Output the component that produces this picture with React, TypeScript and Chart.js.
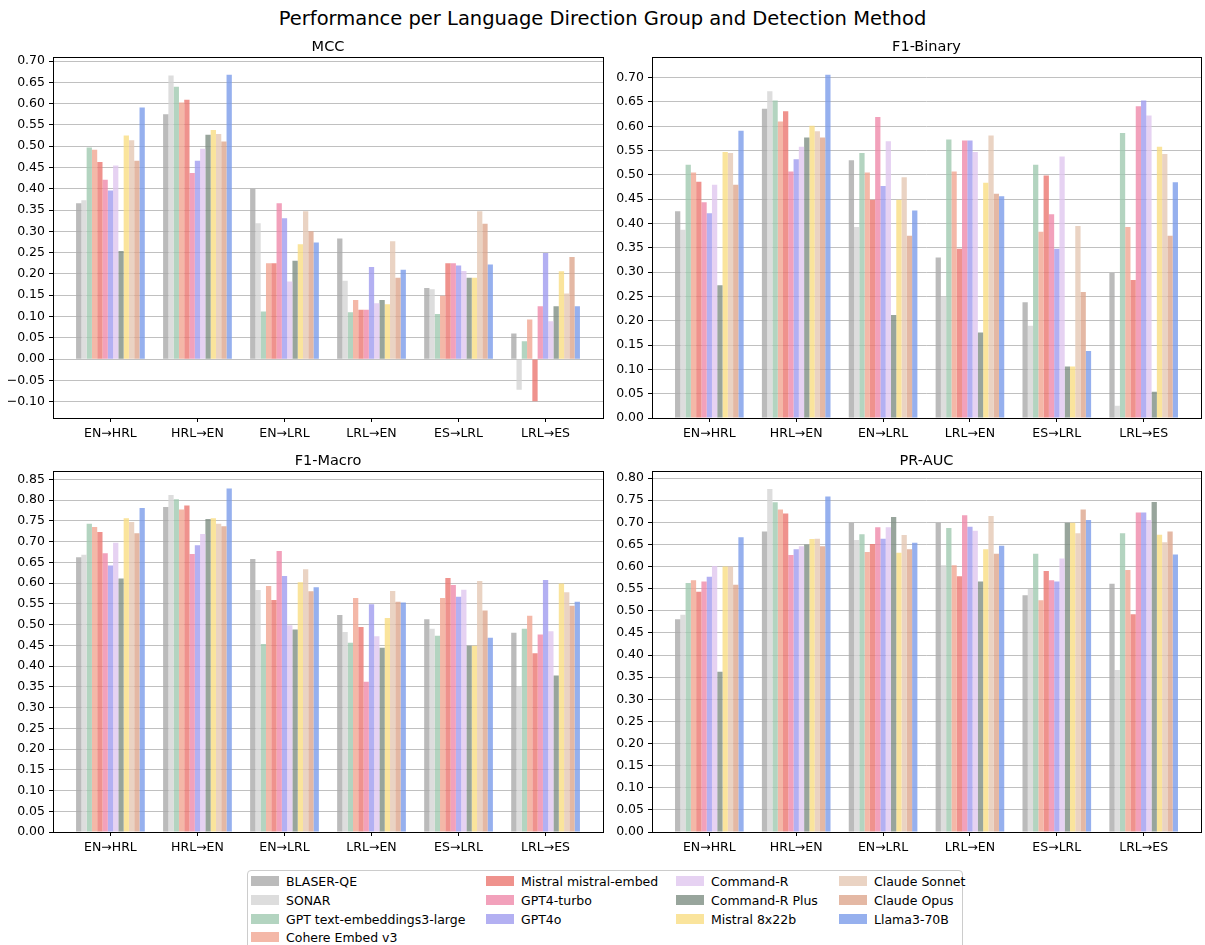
import React, { useEffect, useRef } from "react";
import { Chart, registerables } from "chart.js";

Chart.register(...registerables);

const FONT = "'DejaVu Sans', 'Liberation Sans', sans-serif";

const categories = ["EN→HRL", "HRL→EN", "EN→LRL", "LRL→EN", "ES→LRL", "LRL→ES"];

const methods = [
  "BLASER-QE",
  "SONAR",
  "GPT text-embeddings3-large",
  "Cohere Embed v3",
  "Mistral mistral-embed",
  "GPT4-turbo",
  "GPT4o",
  "Command-R",
  "Command-R Plus",
  "Mistral 8x22b",
  "Claude Sonnet",
  "Claude Opus",
  "Llama3-70B",
];

const methodColors = [
  "rgba(170,170,170,0.8)",
  "rgba(212,212,212,0.8)",
  "rgba(160,201,176,0.8)",
  "rgba(241,166,146,0.8)",
  "rgba(235,119,113,0.8)",
  "rgba(239,137,170,0.8)",
  "rgba(160,156,239,0.8)",
  "rgba(224,199,239,0.8)",
  "rgba(126,142,131,0.8)",
  "rgba(249,221,131,0.8)",
  "rgba(229,200,180,0.8)",
  "rgba(221,166,141,0.8)",
  "rgba(124,156,234,0.8)",
];

// rows = methods, columns = categories
const mccValues = [
  [0.366, 0.575, 0.400, 0.283, 0.167, 0.060],
  [0.373, 0.666, 0.319, 0.184, 0.164, -0.072],
  [0.497, 0.640, 0.112, 0.110, 0.106, 0.042],
  [0.492, 0.603, 0.225, 0.139, 0.149, 0.093],
  [0.463, 0.609, 0.225, 0.116, 0.225, -0.099],
  [0.421, 0.437, 0.366, 0.116, 0.225, 0.124],
  [0.396, 0.466, 0.331, 0.216, 0.220, 0.249],
  [0.455, 0.494, 0.182, 0.131, 0.207, 0.089],
  [0.254, 0.527, 0.231, 0.139, 0.191, 0.124],
  [0.525, 0.538, 0.270, 0.129, 0.191, 0.206],
  [0.514, 0.529, 0.347, 0.277, 0.347, 0.154],
  [0.466, 0.511, 0.300, 0.191, 0.318, 0.240],
  [0.591, 0.668, 0.274, 0.210, 0.222, 0.124],
];

const f1BinaryValues = [
  [0.425, 0.636, 0.530, 0.330, 0.238, 0.298],
  [0.387, 0.672, 0.393, 0.250, 0.190, 0.025],
  [0.521, 0.653, 0.545, 0.573, 0.521, 0.586],
  [0.505, 0.610, 0.505, 0.507, 0.383, 0.393],
  [0.486, 0.631, 0.449, 0.348, 0.499, 0.284],
  [0.444, 0.507, 0.619, 0.571, 0.419, 0.641],
  [0.421, 0.532, 0.477, 0.571, 0.348, 0.653],
  [0.480, 0.558, 0.569, 0.547, 0.538, 0.622],
  [0.273, 0.577, 0.212, 0.176, 0.106, 0.054],
  [0.547, 0.601, 0.449, 0.484, 0.106, 0.558],
  [0.545, 0.590, 0.495, 0.581, 0.395, 0.543],
  [0.480, 0.577, 0.375, 0.461, 0.259, 0.375],
  [0.591, 0.706, 0.427, 0.456, 0.138, 0.485],
];

const f1MacroValues = [
  [0.662, 0.783, 0.658, 0.523, 0.513, 0.480],
  [0.668, 0.812, 0.583, 0.482, 0.490, 0.351],
  [0.743, 0.802, 0.453, 0.456, 0.473, 0.490],
  [0.735, 0.777, 0.593, 0.564, 0.564, 0.521],
  [0.723, 0.787, 0.559, 0.494, 0.612, 0.431],
  [0.672, 0.670, 0.677, 0.362, 0.595, 0.476],
  [0.642, 0.691, 0.617, 0.549, 0.567, 0.607],
  [0.697, 0.718, 0.498, 0.472, 0.584, 0.484],
  [0.611, 0.754, 0.488, 0.444, 0.449, 0.377],
  [0.756, 0.756, 0.602, 0.516, 0.449, 0.599],
  [0.747, 0.743, 0.633, 0.581, 0.605, 0.578],
  [0.720, 0.737, 0.580, 0.555, 0.534, 0.545],
  [0.781, 0.828, 0.590, 0.553, 0.468, 0.555],
];

const prAucValues = [
  [0.481, 0.679, 0.699, 0.699, 0.535, 0.561],
  [0.491, 0.775, 0.660, 0.603, 0.549, 0.366],
  [0.563, 0.745, 0.673, 0.687, 0.629, 0.675],
  [0.569, 0.729, 0.633, 0.603, 0.524, 0.592],
  [0.543, 0.720, 0.651, 0.578, 0.590, 0.492],
  [0.566, 0.626, 0.689, 0.716, 0.569, 0.722],
  [0.577, 0.639, 0.663, 0.690, 0.566, 0.722],
  [0.601, 0.646, 0.689, 0.681, 0.618, 0.705],
  [0.362, 0.650, 0.712, 0.566, 0.699, 0.746],
  [0.600, 0.662, 0.631, 0.639, 0.699, 0.672],
  [0.600, 0.663, 0.671, 0.714, 0.675, 0.655],
  [0.559, 0.646, 0.639, 0.629, 0.729, 0.679],
  [0.666, 0.758, 0.654, 0.647, 0.705, 0.627],
];

// y-axis limits [min, max] and tick range [first, last, step]
const mccLimits = [-0.1385, 0.7087];
const mccTicks = [-0.1, 0.7, 0.05];
const f1BinaryLimits = [0, 0.7417];
const f1BinaryTicks = [0, 0.7, 0.05];
const f1MacroLimits = [0, 0.869];
const f1MacroTicks = [0, 0.85, 0.05];
const prAucLimits = [0, 0.815];
const prAucTicks = [0, 0.8, 0.05];

const xLimits = [-0.66, 5.66];

const legendColumns = [
  [0, 4],
  [4, 7],
  [7, 10],
  [10, 13],
];

const framePlugin = {
  id: "frame",
  afterDraw(chart: any) {
    const { ctx, chartArea: a } = chart;
    ctx.save();
    ctx.strokeStyle = "#000";
    ctx.lineWidth = 1;
    ctx.strokeRect(
      Math.round(a.left) + 0.5,
      Math.round(a.top) + 0.5,
      Math.round(a.right) - Math.round(a.left),
      Math.round(a.bottom) - Math.round(a.top)
    );
    ctx.restore();
  },
};

function tickRange(first: number, last: number, step: number) {
  const out: number[] = [];
  const k0 = Math.round(first / step);
  const k1 = Math.round(last / step);
  for (let k = k0; k <= k1; k++) out.push(Math.round(k * step * 1e6) / 1e6);
  return out;
}

type PanelProps = {
  title: string;
  values: number[][];
  limits: number[];
  ticks: number[];
  left: number;
  top: number;
  plotWidth: number;
  rightPad: number;
};

const TITLE_PAD_TOP = 9;
const TITLE_PAD_BOTTOM = 1;
const TITLE_H = TITLE_PAD_TOP + 14.5 * 1.2 + TITLE_PAD_BOTTOM;
const X_AXIS_H = 28;
const Y_AXIS_W = 53;

function Panel({ title, values, limits, ticks, left, top, plotWidth, rightPad }: PanelProps) {
  const ref = useRef<HTMLCanvasElement | null>(null);
  const width = Y_AXIS_W + plotWidth + rightPad;
  const height = 416;

  useEffect(() => {
    if (!ref.current) return;
    const yTickValues = tickRange(ticks[0], ticks[1], ticks[2]);
    const chart = new Chart(ref.current, {
      type: "bar",
      data: {
        datasets: methods.map((m, j) => ({
          label: m,
          data: categories.map((_, i) => ({ x: i, y: values[j][i] })),
          backgroundColor: methodColors[j],
          borderWidth: 0,
          categoryPercentage: 0.79,
          barPercentage: 1.0,
        })),
      },
      options: {
        responsive: false,
        animation: false,
        layout: { padding: { left: 0, right: rightPad, top: 0, bottom: 0 } },
        plugins: {
          legend: { display: false },
          tooltip: { enabled: false },
          title: {
            display: true,
            text: title,
            fullSize: false,
            color: "#000",
            font: { family: FONT, size: 14.5, weight: "normal" },
            padding: { top: TITLE_PAD_TOP, bottom: TITLE_PAD_BOTTOM },
          },
        },
        scales: {
          x: {
            type: "linear",
            min: xLimits[0],
            max: xLimits[1],
            offset: false,
            afterBuildTicks: (scale: any) => {
              scale.ticks = categories.map((_, i) => ({ value: i }));
            },
            afterFit: (scale: any) => {
              scale.height = X_AXIS_H;
            },
            grid: {
              offset: false,
              drawOnChartArea: false,
              drawTicks: true,
              tickLength: 4,
              tickColor: "#000",
            },
            border: { display: false },
            ticks: {
              autoSkip: false,
              maxRotation: 0,
              padding: 4,
              color: "#000",
              font: { family: FONT, size: 12.5 },
              callback: (v: any) => categories[Math.round(Number(v))] ?? "",
            },
          },
          y: {
            type: "linear",
            min: limits[0],
            max: limits[1],
            afterBuildTicks: (scale: any) => {
              scale.ticks = yTickValues.map((v) => ({ value: v }));
            },
            afterFit: (scale: any) => {
              scale.width = Y_AXIS_W;
            },
            grid: {
              color: "#b0b0b0",
              lineWidth: 0.8,
              drawTicks: true,
              tickLength: 4,
              tickColor: "#000",
              tickWidth: 1,
            },
            border: { display: false },
            ticks: {
              padding: 4,
              color: "#000",
              font: { family: FONT, size: 12.5 },
              callback: (v: any) => {
                const n = Number(v);
                return (n < -1e-9 ? "\u2212" : "") + Math.abs(n).toFixed(2);
              },
            },
          },
        },
      } as any,
      plugins: [framePlugin],
    });
    return () => chart.destroy();
  }, []);

  return (
    <canvas
      ref={ref}
      width={width}
      height={height}
      style={{ position: "absolute", left, top, width, height }}
    />
  );
}

function Legend() {
  const colLeft = [3, 238, 428, 591];
  const rowCenter = [10, 29, 48, 66];
  const items: any[] = [];
  legendColumns.forEach(([s, e], c) => {
    for (let j = s; j < e; j++) {
      const r = j - s;
      items.push(
        <div
          key={j}
          style={{
            position: "absolute",
            left: colLeft[c],
            top: rowCenter[r] - 8,
            height: 16,
            display: "flex",
            alignItems: "center",
            whiteSpace: "nowrap",
          }}
        >
          <span
            style={{
              display: "inline-block",
              width: 28,
              height: 10,
              background: methodColors[j],
              marginRight: 7,
            }}
          />
          <span style={{ fontFamily: FONT, fontSize: 12.5, color: "#000" }}>{methods[j]}</span>
        </div>
      );
    }
  });
  return (
    <div
      style={{
        position: "absolute",
        left: 247,
        top: 870,
        width: 716,
        height: 90,
        border: "1px solid #cccccc",
        borderRadius: 4,
        boxSizing: "border-box",
        background: "#fff",
      }}
    >
      {items}
    </div>
  );
}

export default function App() {
  const topRow = 57 - TITLE_H;
  const bottomRow = 471.5 - TITLE_H;
  return (
    <div
      style={{
        position: "absolute",
        left: 0,
        top: 0,
        width: 1205,
        height: 945,
        overflow: "hidden",
        background: "#fff",
      }}
    >
      <div
        style={{
          position: "absolute",
          left: 0,
          top: 7,
          width: 1205,
          textAlign: "center",
          fontFamily: FONT,
          fontSize: 19.5,
          lineHeight: "24px",
          color: "#000",
        }}
      >
        Performance per Language Direction Group and Detection Method
      </div>
      <Panel title="MCC" values={mccValues} limits={mccLimits} ticks={mccTicks} left={0} top={topRow} plotWidth={550} rightPad={6} />
      <Panel title="F1-Binary" values={f1BinaryValues} limits={f1BinaryLimits} ticks={f1BinaryTicks} left={599} top={topRow} plotWidth={549} rightPad={4} />
      <Panel title="F1-Macro" values={f1MacroValues} limits={f1MacroLimits} ticks={f1MacroTicks} left={0} top={bottomRow} plotWidth={550} rightPad={6} />
      <Panel title="PR-AUC" values={prAucValues} limits={prAucLimits} ticks={prAucTicks} left={599} top={bottomRow} plotWidth={549} rightPad={4} />
      <Legend />
    </div>
  );
}
